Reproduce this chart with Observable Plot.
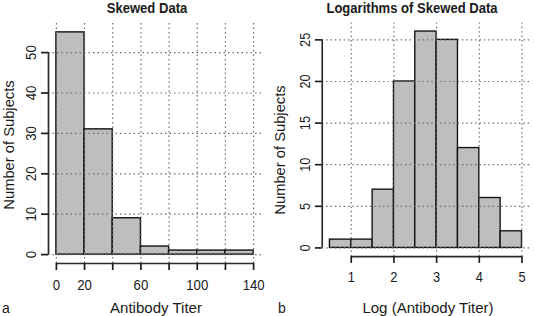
<!DOCTYPE html>
<html>
<head>
<meta charset="utf-8">
<script src="https://cdn.jsdelivr.net/npm/d3@7"></script>
<script src="https://cdn.jsdelivr.net/npm/@observablehq/plot@0.6"></script>
<style>
  body { margin: 0; background: #fff; }
  #wrap { position: relative; width: 535px; height: 316px; overflow: hidden; background: #fff;
          font-family: "Liberation Sans", Arial, sans-serif; color: #1a1a1a; }
  .panel { position: absolute; top: 0; }
  .t { position: absolute; white-space: nowrap; line-height: 1; }
  .title { font-weight: bold; font-size: 15px; transform: translateX(-50%) scaleX(0.87); }
  .xlab { font-size: 15.5px; transform: translateX(-50%) scaleX(0.97); }
  .ylab { font-size: 15.5px; transform: translate(-50%, -50%) rotate(-90deg) scaleX(0.95); }
  .tag { font-size: 14px; }
</style>
</head>
<body>
<div id="wrap">
  <div class="panel" id="left" style="left:0px"></div>
  <div class="panel" id="right" style="left:275px"></div>
  <div class="t title" style="left:147px; top:0px">Skewed Data</div>
  <div class="t title" style="left:412px; top:0px">Logarithms of Skewed Data</div>
  <div class="t xlab" style="left:156px; top:300px">Antibody Titer</div>
  <div class="t xlab" style="left:428px; top:300px">Log (Antibody Titer)</div>
  <div class="t ylab" style="left:9px; top:145px">Number of Subjects</div>
  <div class="t ylab" style="left:280px; top:150px">Number of Subjects</div>
  <div class="t tag" style="left:2px; top:301px">a</div>
  <div class="t tag" style="left:278px; top:301px">b</div>
</div>
<script>
// Panel a: raw antibody titers
const titerBreaks = [0, 20, 40, 60, 80, 100, 120, 140];
const titerCounts = [55, 31, 9, 2, 1, 1, 1];
const titerXTicks = [0, 20, 40, 60, 80, 100, 120, 140];
const titerXLabels = [0, 20, 60, 100, 140];
const titerYTicks = [0, 10, 20, 30, 40, 50];

// Panel b: log of antibody titers
const logBreaks = [0.5, 1, 1.5, 2, 2.5, 3, 3.5, 4, 4.5, 5];
const logCounts = [1, 1, 7, 20, 26, 25, 12, 6, 2];
const logXTicks = [1, 2, 3, 4, 5];
const logXLabels = [1, 2, 3, 4, 5];
const logYTicks = [0, 5, 10, 15, 20, 25];

function panel(breaks, counts, xTicks, xLabels, yTicks) {
  const bins = counts.map((c, i) => ({x1: breaks[i], x2: breaks[i + 1], count: c}));
  const xmin = d3.min(breaks), xmax = d3.max(breaks);
  const xpad = 0.04 * (xmax - xmin);
  const ymax = d3.max(counts);
  const ypad = 0.04 * ymax;
  const xDomain = [xmin - xpad, xmax + xpad];
  const yDomain = [-ypad, ymax + ypad];
  const gridStyle = {stroke: "#6e6e6e", strokeOpacity: 1, strokeDasharray: "1.5,3", strokeWidth: 1.2};
  return Plot.plot({
    width: 267, height: 316,
    marginLeft: 48, marginRight: 6, marginTop: 23, marginBottom: 53,
    x: {domain: xDomain},
    y: {domain: yDomain},
    style: {fontFamily: "'Liberation Sans', Arial, sans-serif", fontSize: "15.5px", color: "#1a1a1a", background: "transparent", overflow: "visible"},
    marks: [
      Plot.rect(bins, {x1: "x1", x2: "x2", y1: 0, y2: "count", fill: "#bebebe", stroke: "#111", strokeWidth: 1.4}),
      Plot.gridX(xTicks, gridStyle),
      Plot.gridY(yTicks, gridStyle),
      Plot.ruleY([yDomain[0]], {x1: xTicks[0], x2: xTicks[xTicks.length - 1], stroke: "#2a2a2a", strokeWidth: 1.7}),
      Plot.ruleX([xDomain[0]], {y1: yTicks[0], y2: yTicks[yTicks.length - 1], stroke: "#2a2a2a", strokeWidth: 1.7}),
      Plot.axisX(xTicks, {tickSize: 7, tickPadding: 8, label: null, color: "#1a1a1a", strokeWidth: 1.7,
        tickFormat: d => xLabels.includes(d) ? String(d) : ""}),
      Plot.axisY(yTicks, {tickSize: 7, tickPadding: 6, tickRotate: -90, label: null, color: "#1a1a1a", strokeWidth: 1.7,
        tickFormat: d => String(d)})
    ]
  });
}

function condense(svg, k) {
  for (const t of svg.querySelectorAll('g[aria-label$="tick label"] text')) {
    const L = t.getComputedTextLength();
    if (L > 0) {
      t.setAttribute("textLength", (L * k).toFixed(2));
      t.setAttribute("lengthAdjust", "spacingAndGlyphs");
    }
  }
}

const leftSvg = panel(titerBreaks, titerCounts, titerXTicks, titerXLabels, titerYTicks);
document.getElementById("left").appendChild(leftSvg);
condense(leftSvg, 0.85);
const rightSvg = panel(logBreaks, logCounts, logXTicks, logXLabels, logYTicks);
document.getElementById("right").appendChild(rightSvg);
condense(rightSvg, 0.85);
</script>
</body>
</html>
